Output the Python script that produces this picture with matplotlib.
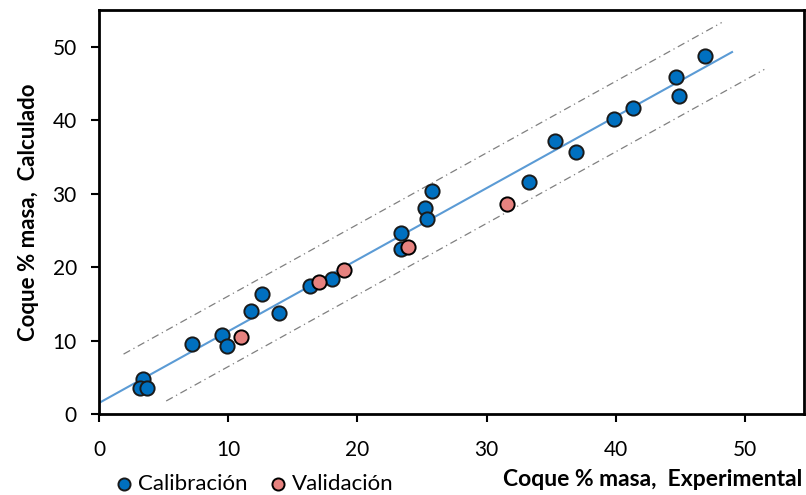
import numpy as np
import matplotlib
matplotlib.use("Agg")
import matplotlib.pyplot as plt

# Calibration points (experimental, calculated)
cal_x = [3.4, 3.2, 3.7, 7.2, 9.5, 9.9, 11.8, 12.6, 13.9, 16.3, 18.0, 23.4, 23.4,
         25.2, 25.4, 25.8, 33.3, 35.3, 36.9, 39.9, 41.3, 44.7, 44.9, 46.9]
cal_y = [4.8, 3.5, 3.5, 9.5, 10.7, 9.2, 14.0, 16.3, 13.8, 17.4, 18.4, 24.7, 22.5,
         28.1, 26.5, 30.4, 31.6, 37.1, 35.7, 40.2, 41.7, 45.9, 43.3, 48.8]

# Validation points
val_x = [11.0, 17.0, 19.0, 23.9, 31.6]
val_y = [10.5, 18.0, 19.6, 22.8, 28.6]

# fitted line and prediction band
intercept = 1.5
slope = 0.975
band = 4.8

plt.rcParams['font.family'] = ['Lato', 'DejaVu Sans']

fig = plt.figure(figsize=(8.06, 4.95), dpi=100)
ax = fig.add_axes([99/806, 81/495, 705/806, 404/495])

xl = np.array([0, 49])
ax.plot(xl, intercept + slope*xl, color='#5B9BD5', lw=1.5, zorder=2)
xu = np.array([1.9, 48.2])
ax.plot(xu, intercept + slope*xu + band, color='#808080', lw=0.9, ls=(0, (6, 3, 1, 3)), zorder=1)
xd = np.array([5.2, 51.5])
ax.plot(xd, intercept + slope*xd - band, color='#808080', lw=0.9, ls=(0, (6, 3, 1, 3)), zorder=1)

ax.scatter(cal_x, cal_y, s=105, c='#0070C0', edgecolors='#1a1a1a', linewidths=1.4,
           zorder=3, label='Calibración')
ax.scatter(val_x, val_y, s=105, c='#E6827F', edgecolors='#000000', linewidths=1.4,
           zorder=4, label='Validación')

ax.set_xlim(0, 54.57)
ax.set_ylim(0, 55)
ax.set_xticks(range(0, 51, 10))
ax.set_yticks(range(0, 51, 10))
ax.tick_params(labelsize=15, length=6, width=1.5, direction='out', colors='black')
ax.tick_params(axis='x', pad=13)
ax.tick_params(axis='y', pad=10)
for s in ax.spines.values():
    s.set_linewidth(2)
    s.set_color('black')

ax.set_ylabel('Coque % masa,  Calculado', fontsize=16, fontweight='bold', labelpad=10)
fig.text(0.995, 1 - 479/495, 'Coque % masa,  Experimental', fontsize=16.5, fontweight='bold',
         ha='right', va='center')

fig.legend(loc='center left', bbox_to_anchor=(102/806, 1 - 484/495), ncol=2, frameon=False,
           fontsize=16, handletextpad=0.0, columnspacing=0.8, markerscale=0.85,
           borderaxespad=0, handlelength=1.2)

fig.savefig('out.png', dpi=100)
